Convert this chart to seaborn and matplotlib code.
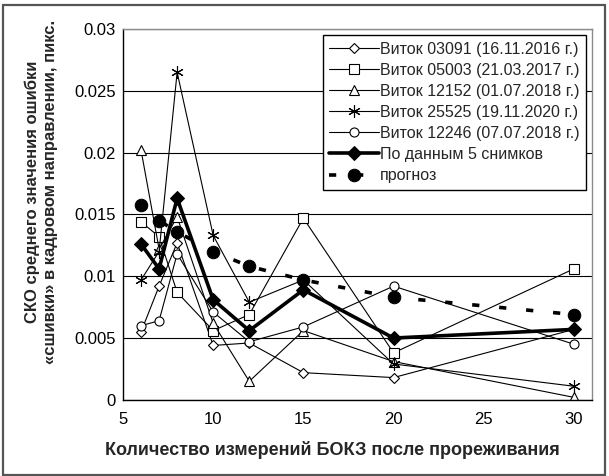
import pandas as pd
import seaborn as sns
import matplotlib.pyplot as plt
from matplotlib.patches import Rectangle

# Данные
Izmereniya = [6, 7, 8, 10, 12, 15, 20, 30]

Vitok03091 = [0.0055, 0.0092, 0.0127, 0.0044, 0.0046, 0.0022, 0.0018, 0.0057]
Vitok05003 = [0.0144, 0.0132, 0.0087, 0.0056, 0.0069, 0.0147, 0.0038, 0.0106]
Vitok12152 = [0.0202, 0.0122, 0.0148, 0.0062, 0.0015, 0.0056, 0.0031, 0.0002]
Vitok25525 = [0.0097, 0.0120, 0.0265, 0.0133, 0.0079, 0.0097, 0.0029, 0.0011]
Vitok12246 = [0.0060, 0.0064, 0.0118, 0.0071, 0.0047, 0.0059, 0.0092, 0.0045]
PoDannym5 = [0.0126, 0.0106, 0.0163, 0.0081, 0.0056, 0.0089, 0.0050, 0.0057]
Prognoz = [0.0158, 0.0145, 0.0136, 0.0120, 0.0108, 0.0097, 0.0083, 0.0069]

Nombres = ["Виток 03091 (16.11.2016 г.)", "Виток 05003 (21.03.2017 г.)",
           "Виток 12152 (01.07.2018 г.)", "Виток 25525 (19.11.2020 г.)",
           "Виток 12246 (07.07.2018 г.)", "По данным 5 снимков", "прогноз"]

Yticks = [0, 0.005, 0.01, 0.015, 0.02, 0.025, 0.03]
YtickLabels = ["0", "0.005", "0.01", "0.015", "0.02", "0.025", "0.03"]
Xticks = [5, 10, 15, 20, 25, 30]

sns.set_style("white")
plt.rcParams['font.family'] = ['Liberation Sans', 'DejaVu Sans']

fig = plt.figure(figsize=(6.09, 4.76), dpi=100)
ax = fig.add_axes([0.202, 0.160, 0.770, 0.779])

Series = [Vitok03091, Vitok05003, Vitok12152, Vitok25525, Vitok12246]
Markers = ["D", "s", "^", (6, 2, 0), "o"]
Tamanos = [5, 6.5, 7, 9, 6.5]

for serie, nombre, mk, ms in zip(Series, Nombres[:5], Markers, Tamanos):
    sns.lineplot(x=Izmereniya, y=serie, ax=ax, color="black", linewidth=0.8,
                 marker=mk, markersize=ms, markerfacecolor="white",
                 markeredgecolor="black", markeredgewidth=0.8, label=nombre)

sns.lineplot(x=Izmereniya, y=PoDannym5, ax=ax, color="black", linewidth=2.6,
             marker="D", markersize=7, markerfacecolor="black",
             markeredgecolor="black", label=Nombres[5])

sns.lineplot(x=Izmereniya, y=Prognoz, ax=ax, color="black", linewidth=2.6,
             marker="o", markersize=9, markerfacecolor="black",
             markeredgecolor="black", label=Nombres[6])
ax.lines[-1].set_dashes([2.0, 5.5])

ax.set_xlim(5, 31)
ax.set_ylim(0, 0.03)
ax.set_xticks(Xticks)
ax.set_xticklabels([str(t) for t in Xticks], fontsize=12)
ax.set_yticks(Yticks)
ax.set_yticklabels(YtickLabels, fontsize=12)
ax.tick_params(axis="y", direction="inout", length=6, width=0.8, colors="black", pad=2)
ax.tick_params(axis="x", direction="inout", length=6, width=0.8, colors="black", pad=6)
ax.yaxis.grid(True, color="black", linewidth=0.8)
ax.set_axisbelow(True)

for lado in ["left", "bottom"]:
    ax.spines[lado].set_color("black")
    ax.spines[lado].set_linewidth(1.0)
for lado in ["top", "right"]:
    ax.spines[lado].set_color("#8a8a8a")
    ax.spines[lado].set_linewidth(1.0)

ax.set_xlabel("")
ax.set_ylabel("")

leg = ax.legend(loc="upper right", bbox_to_anchor=(0.988, 0.983), fontsize=11.5,
                frameon=True, fancybox=False, framealpha=1, edgecolor="black",
                handlelength=3.1, handletextpad=0.1, labelspacing=0.38,
                borderpad=0.4, borderaxespad=0)
leg.get_frame().set_linewidth(1.0)

fig.text(0.545, 0.055, "Количество измерений БОКЗ после прореживания",
         ha="center", va="center", fontsize=13, fontweight="bold")
fig.text(0.053, 0.597, "СКО среднего значения ошибки",
         ha="center", va="center", rotation=90, fontsize=12, fontweight="bold")
fig.text(0.083, 0.597, "«сшивки» в кадровом направлении, пикс.",
         ha="center", va="center", rotation=90, fontsize=12, fontweight="bold")

fig.patches.append(Rectangle((0.005, 0.003), 0.988, 0.986, transform=fig.transFigure,
                             fill=False, edgecolor="#555555", linewidth=1.6))

fig.savefig("out.png", dpi=100)
